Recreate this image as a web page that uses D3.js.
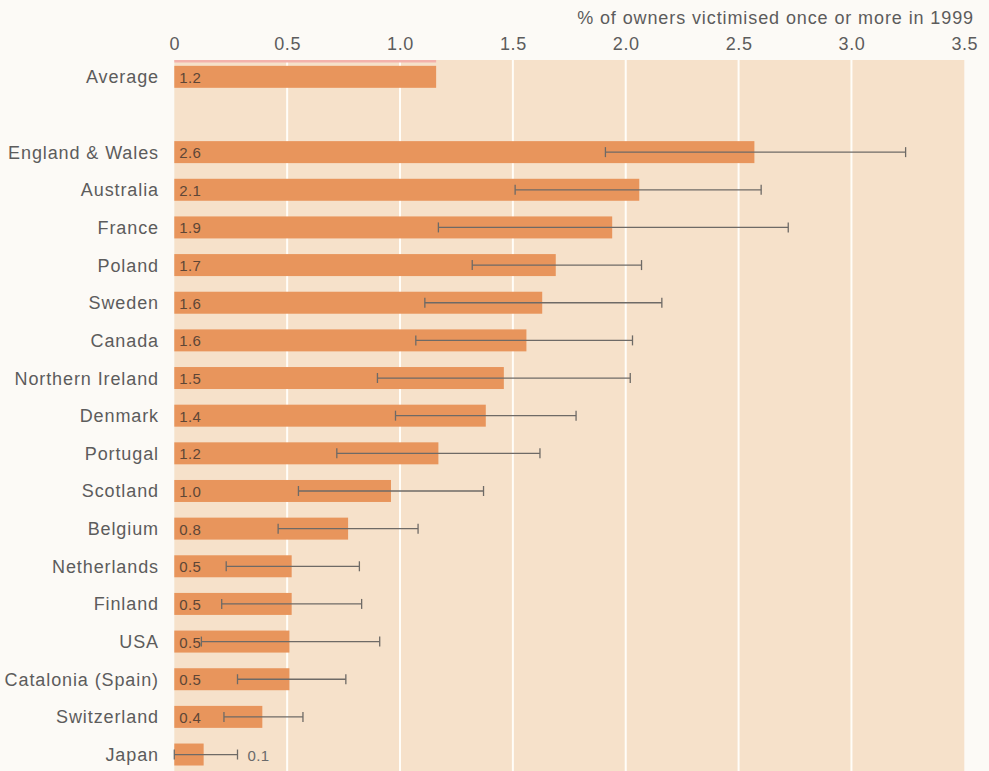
<!DOCTYPE html>
<html>
<head>
<meta charset="utf-8">
<script src="https://cdn.jsdelivr.net/npm/d3@7"></script>
<style>
  html, body { margin: 0; padding: 0; background: #fcfaf6; }
  svg { display: block; }
  text { font-family: "Liberation Sans", Arial, sans-serif; }
</style>
</head>
<body>
<svg id="chart" width="989" height="771"></svg>
<script>
// Car theft victimisation, 1999: share of owners victimised once or more (%)
const categories = [
  "Average", "",
  "England & Wales", "Australia", "France", "Poland", "Sweden", "Canada",
  "Northern Ireland", "Denmark", "Portugal", "Scotland", "Belgium",
  "Netherlands", "Finland", "USA", "Catalonia (Spain)", "Switzerland", "Japan"
];
const values = [
  1.16, null,
  2.57, 2.06, 1.94, 1.69, 1.63, 1.56,
  1.46, 1.38, 1.17, 0.96, 0.77,
  0.52, 0.52, 0.51, 0.51, 0.39, 0.13
];
// 95% confidence interval bounds
const lower = [
  null, null,
  1.91, 1.51, 1.17, 1.32, 1.11, 1.07,
  0.90, 0.98, 0.72, 0.55, 0.46,
  0.23, 0.21, 0.12, 0.28, 0.22, 0.00
];
const upper = [
  null, null,
  3.24, 2.60, 2.72, 2.07, 2.16, 2.03,
  2.02, 1.78, 1.62, 1.37, 1.08,
  0.82, 0.83, 0.91, 0.76, 0.57, 0.28
];
const tickValues = [0, 0.5, 1.0, 1.5, 2.0, 2.5, 3.0, 3.5];
const tickLabels = ["0", "0.5", "1.0", "1.5", "2.0", "2.5", "3.0", "3.5"];
const axisTitle = "% of owners victimised once or more in 1999";

const rows = categories.map((c, i) => ({
  key: "r" + i, name: c, value: values[i], lo: lower[i], hi: upper[i]
}));

const svg = d3.select("#chart");
const panelTop = 60, panelBottom = 771;
const textGrey = "#5c5c5c";

const x = d3.scaleLinear().domain([0, 3.5]).range([174.3, 964.3]);
const y = d3.scaleBand()
  .domain(rows.map(d => d.key))
  .range([58, 58 + 19 * 37.65])
  .paddingInner(0.416)
  .paddingOuter(0.208);

// beige plotting panel
svg.append("rect")
  .attr("x", x(0)).attr("y", panelTop)
  .attr("width", x(3.5) - x(0)).attr("height", panelBottom - panelTop)
  .attr("fill", "#f6e1ca");

// white vertical gridlines
svg.append("g").selectAll("line")
  .data(tickValues.filter(t => t > 0 && t < 3.5))
  .join("line")
  .attr("x1", d => x(d)).attr("x2", d => x(d))
  .attr("y1", panelTop).attr("y2", panelBottom)
  .attr("stroke", "#fffdf8").attr("stroke-width", 2);

// top axis tick labels
const axis = d3.axisTop(x)
  .tickValues(tickValues)
  .tickFormat((d, i) => tickLabels[i])
  .tickSize(0).tickPadding(0);
const gAxis = svg.append("g").attr("transform", "translate(0,50)").call(axis);
gAxis.select(".domain").remove();
gAxis.selectAll("text")
  .attr("font-size", 18).attr("fill", textGrey)
  .attr("letter-spacing", 0.6)
  .attr("dy", 0)
  .attr("font-family", "'Liberation Sans', Arial, sans-serif");

// axis title
svg.append("text")
  .attr("x", 974).attr("y", 24)
  .attr("text-anchor", "end")
  .attr("font-size", 18).attr("fill", textGrey)
  .attr("letter-spacing", 0.9)
  .text(axisTitle);

const data = rows.filter(d => d.value !== null);

// thin highlight strip on the average row
const avg = rows[0];
svg.append("rect")
  .attr("x", x(0)).attr("y", panelTop)
  .attr("width", x(avg.value) - x(0)).attr("height", 2.5)
  .attr("fill", "#f3b2ab");

// bars
svg.append("g").selectAll("rect")
  .data(data)
  .join("rect")
  .attr("x", x(0))
  .attr("y", d => y(d.key))
  .attr("width", d => x(d.value) - x(0))
  .attr("height", y.bandwidth())
  .attr("fill", "#e8955c");

// category labels
svg.append("g").selectAll("text")
  .data(data)
  .join("text")
  .attr("x", 159)
  .attr("y", d => y(d.key) + y.bandwidth() / 2)
  .attr("dy", "0.36em")
  .attr("text-anchor", "end")
  .attr("font-size", 18)
  .attr("letter-spacing", 0.9)
  .attr("fill", textGrey)
  .text(d => d.name);

// confidence interval whiskers
const ci = data.filter(d => d.lo !== null);
const gCi = svg.append("g")
  .attr("stroke", "#6e6a66").attr("stroke-width", 1.3).attr("fill", "none");
ci.forEach(d => {
  const cy = y(d.key) + y.bandwidth() / 2;
  gCi.append("line")
    .attr("x1", x(d.lo)).attr("x2", x(d.hi)).attr("y1", cy).attr("y2", cy);
  [d.lo, d.hi].forEach(v => {
    gCi.append("line")
      .attr("x1", x(v)).attr("x2", x(v)).attr("y1", cy - 5).attr("y2", cy + 5);
  });
});

// value labels: inside the bar, or beyond the whisker for very short bars
svg.append("g").selectAll("text")
  .data(data)
  .join("text")
  .attr("x", d => d.value < 0.2 ? x(d.hi) + 10 : x(0) + 5)
  .attr("y", d => y(d.key) + y.bandwidth() / 2)
  .attr("dy", "0.4em")
  .attr("font-size", 15)
  .attr("letter-spacing", 0.4)
  .attr("fill", d => d.value < 0.2 ? "#6a6a6a" : "#5e4636")
  .text(d => d3.format(".1f")(d.value));
</script>
</body>
</html>
